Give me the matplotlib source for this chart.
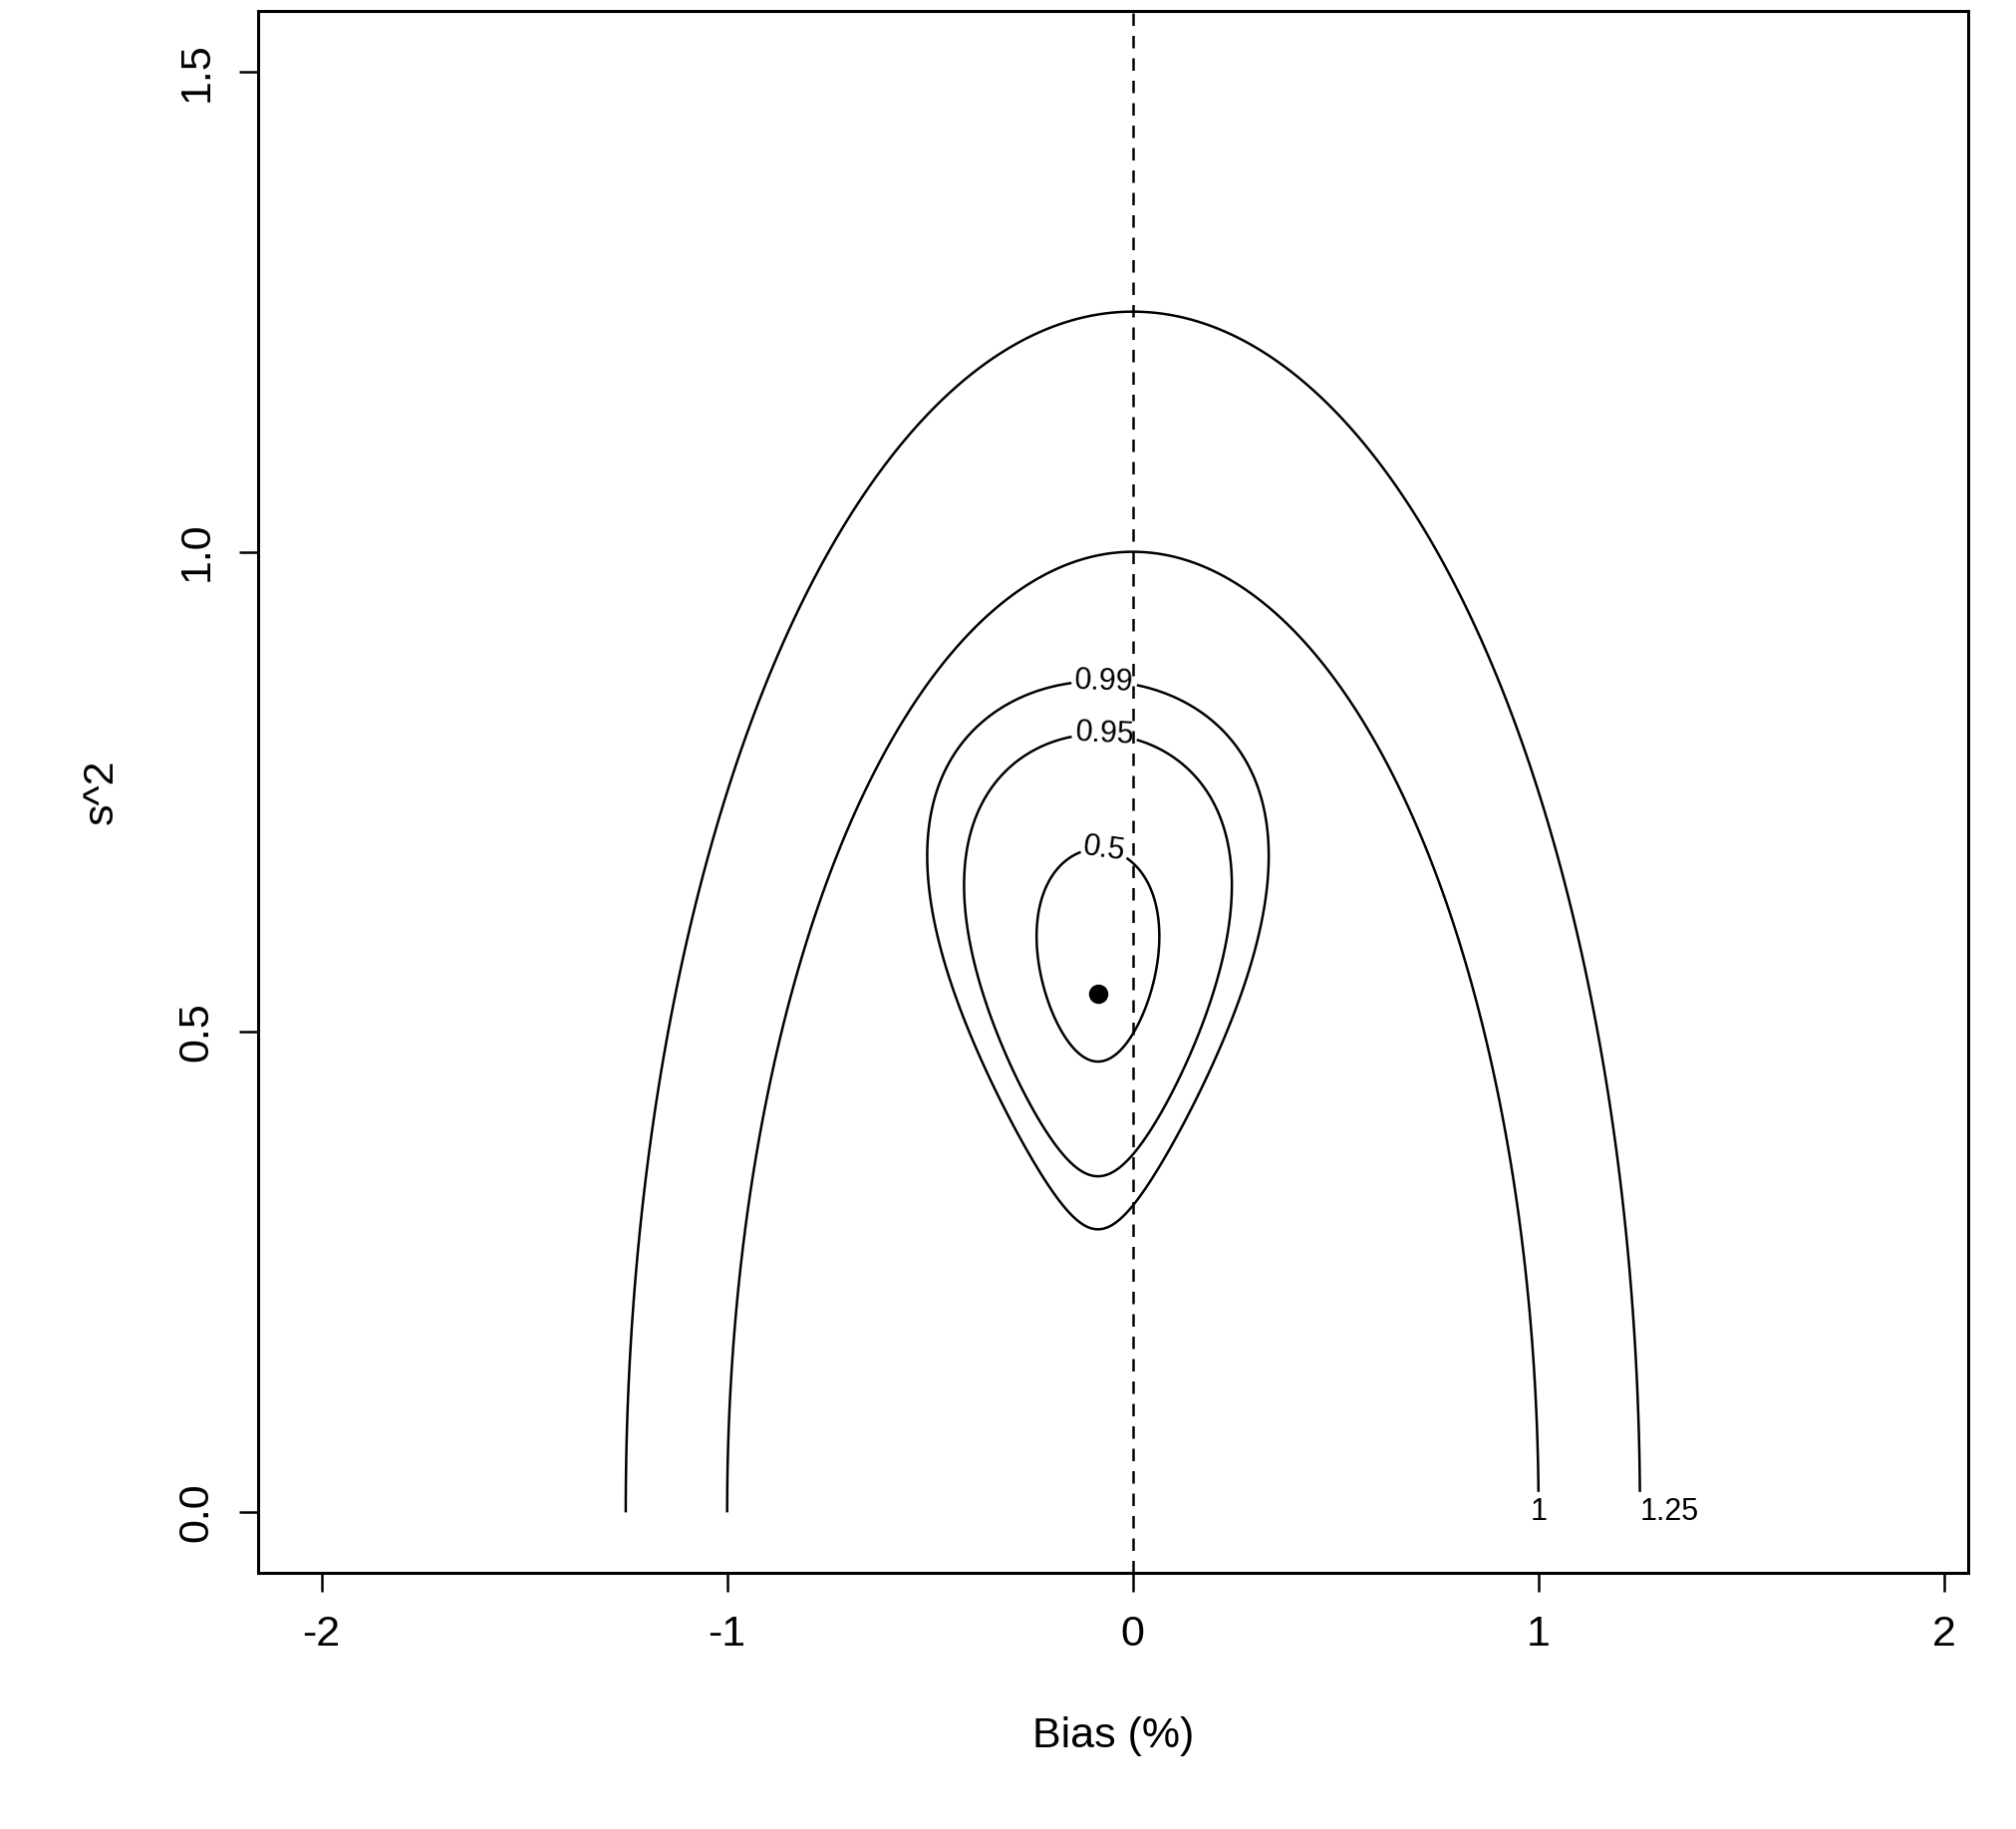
import numpy as np
import matplotlib
matplotlib.use("Agg")
import matplotlib.pyplot as plt

plt.rcParams['font.family'] = ['Liberation Sans', 'DejaVu Sans']

# estimate (point) and shape of the confidence region
est_bias, est_s2 = -0.086, 0.54
sd_bias, sd_s2 = 0.135, 0.094
center_s2, ref_s2 = 0.58, 0.62
conf_levels = [0.5, 0.95, 0.99]
chi2_2df = [1.386, 5.991, 9.210]
total_levels = [1.0, 1.25]
total_names = ['1', '1.25']

xt = [-2, -1, 0, 1, 2]
yt = [0.0, 0.5, 1.0, 1.5]

fig = plt.figure(figsize=(20.24, 18.35), dpi=100)
ax = fig.add_axes([0.128, 0.14, 0.848, 0.854])

x = np.linspace(-2.2, 2.2, 900)
y = np.linspace(0.0, 1.6, 900)
X, Y = np.meshgrid(x, y)

# outer error contours
R = np.sqrt(X**2 + Y**2)
ax.contour(X, Y, R, levels=total_levels, colors='k', linewidths=1.8)
for lv, nm in zip(total_levels, total_names):
    ax.text(lv, 0.0, nm, fontsize=22, ha='left' if lv > 1 else 'center', va='center',
            backgroundcolor='white', zorder=5)

# confidence region
Ys = np.maximum(Y, 1e-3)
Q = ((X - est_bias) / (sd_bias * Ys / ref_s2))**2 + ((Y - center_s2) / sd_s2)**2
cs2 = ax.contour(X, Y, Q, levels=chi2_2df, colors='k', linewidths=1.8)
labs = {chi2_2df[i]: str(conf_levels[i]) for i in range(3)}
ax.clabel(cs2, fmt=labs, fontsize=22, inline=True, inline_spacing=2,
          manual=[(-0.07, 0.69), (-0.07, 0.81), (-0.07, 0.87)])

ax.plot([est_bias], [est_s2], 'ko', ms=13)
ax.axvline(0, color='k', ls=(0, (5, 4)), lw=1.8)

ax.set_xlim(-2.156, 2.06)
ax.set_ylim(-0.063, 1.563)
ax.set_xticks(xt)
ax.set_xticklabels(['-2', '-1', '0', '1', '2'])
ax.set_yticks(yt)
ax.set_yticklabels(['0.0', '0.5', '1.0', '1.5'], rotation=90, va='center')
ax.tick_params(labelsize=31, length=14, width=1.8, pad=16)
for s in ax.spines.values():
    s.set_linewidth(2.2)
ax.set_xlabel('Bias (%)', fontsize=31, labelpad=45)
ax.set_ylabel('s^2', fontsize=31, labelpad=40)

fig.savefig('out.png')
